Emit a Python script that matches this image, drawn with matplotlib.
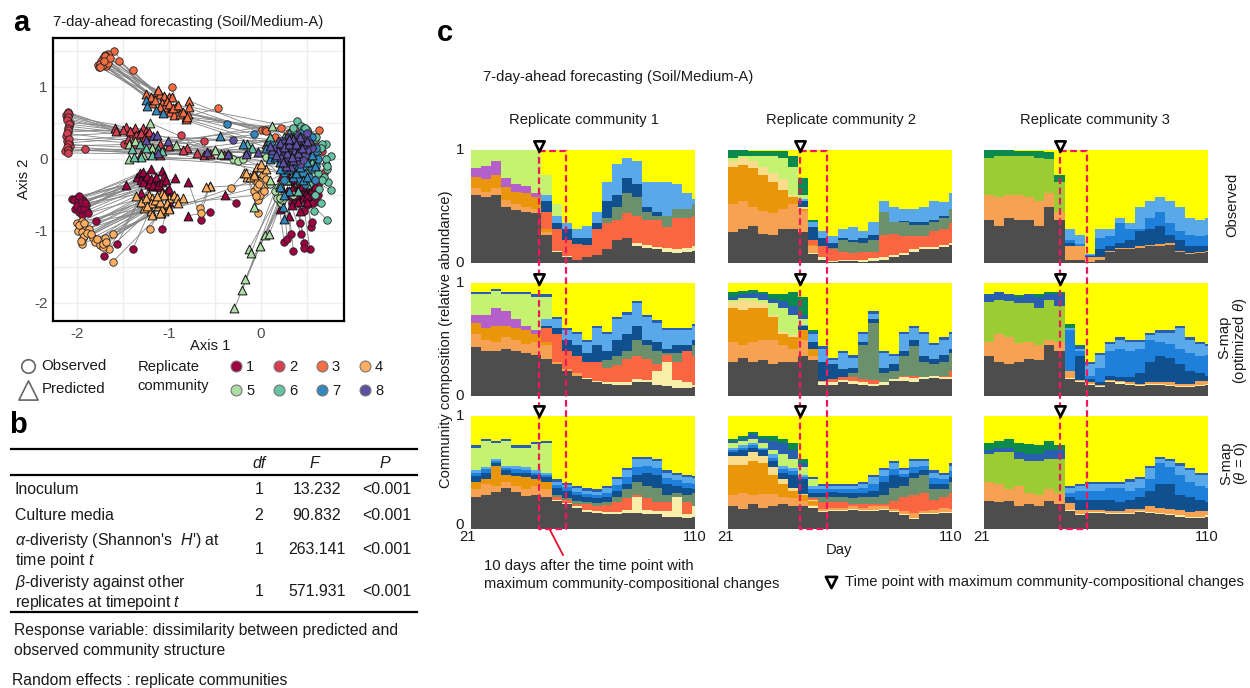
import numpy as np
from matplotlib import pyplot as plt

plt.rcParams['font.family'] = ['Liberation Sans', 'DejaVu Sans']
plt.rcParams['mathtext.fontset'] = 'custom'
plt.rcParams['mathtext.it'] = 'Liberation Sans:italic'
plt.rcParams['mathtext.rm'] = 'Liberation Sans'
plt.rcParams['axes.unicode_minus'] = False

W, H = 1250, 688

# panel a: observed -> predicted, one set of lists per replicate community
c1_ox = [-2.05,-2.0,-1.97,-2.02,-1.95,-1.92,-1.89,-1.98,-1.94,-1.79,-1.56,-1.71,-1.39,-1.08,-.65,-.55,-.27,
         .25,.28,.32,.35,.43,.47,.53,.47,.54,.42,.55,.58,.6,.62,.5,.4,.38,.52,
         -2.03,-1.99,-1.96,-1.93,-1.9,-2.0,-1.96,-1.92,-1.88,-1.98,-1.95,-1.91,
         .3,.35,.4,.45,.5,.55,.6,.35,.42,.48,.55,.33,.38,.47,.62]
c1_oy = [-.56,-.55,-.55,-.7,-.62,-.72,-.72,-.74,-.78,-.86,-1.18,-1.35,-1.25,-.98,-.85,-.74,-.62,
         -1.15,-1.12,-1.05,-1.28,-1.05,-1.17,-1.25,-1.24,-.95,-.9,-.88,-.6,-.55,-.5,-.65,-.55,-.45,-.42,
         -.58,-.6,-.64,-.58,-.65,-.66,-.7,-.68,-.75,-.52,-.6,-.62,
         -.5,-.55,-.62,-.5,-.58,-.5,-.42,-.3,-.4,-.35,-.62,-.62,-.45,-.72,-.35]
c1_px = [-1.47,-1.35,-1.32,-1.28,-1.25,-1.2,-1.15,-1.08,-1.02,-.94,-1.3,-1.2,-1.1,-1.0,-.79,-.79,-.39,
         .2,.25,.3,.28,.33,.35,.45,.42,.48,.38,.42,.5,.22,.3,.4,.36,.45,.55,
         -1.3,-1.28,-1.24,-1.22,-1.2,-1.17,-1.14,-1.12,-1.08,-1.06,-1.03,-1.0,
         .28,.33,.38,.44,.5,.55,.58,.3,.36,.44,.5,.24,.28,.4,.52]
c1_py = [-.36,-.25,-.2,-.18,-.28,-.15,-.32,-.17,-.45,-.27,-.48,-.38,-.4,-.6,-.33,-.79,-.51,
         -.7,-.5,-.8,-.45,-.65,-.4,-.55,-.72,-.3,-.25,-.35,-.45,-.25,-.3,-.2,-.15,-.4,-.25,
         -.3,-.33,-.24,-.35,-.28,-.37,-.25,-.36,-.33,-.24,-.3,-.42,
         -.3,-.42,-.5,-.38,-.52,-.42,-.38,-.18,-.28,-.22,-.6,-.45,-.22,-.6,-.28]

c2_ox = [-2.1,-2.09,-2.12,-2.11,-2.08,-2.09,-2.1,-2.12,-2.11,-2.09,-2.08,-2.1,-2.13,-1.91,-1.49,-.87,-.62,.6,.66,.68,.55,
         -2.1,-2.1,-2.11,-2.09,-2.1,-2.1,-2.11,-2.09,-2.1,-2.11,-2.1,-2.1]
c2_oy = [.65,.62,.6,.56,.5,.45,.37,.32,.25,.22,.18,.14,.1,.14,.21,.33,.24,.18,.1,-.2,-.28,
         .63,.58,.54,.48,.42,.4,.35,.28,.2,.16,.12,.08]
c2_px = [-1.59,-1.58,-1.47,-1.4,-1.37,-1.33,-1.28,-1.25,-1.24,-1.45,-1.37,-1.3,-1.18,-1.12,-1.1,-.62,-.8,.4,.45,.5,.3,
         -1.5,-1.42,-1.36,-1.3,-1.26,-1.22,-1.1,-1.0,-.85,-.7,-.55,-.4]
c2_py = [.42,.38,.44,.36,.42,.34,.42,.38,.33,.28,.2,.07,.15,.08,.05,.05,.15,.1,-.05,-.2,.2,
         .4,.38,.33,.36,.3,.37,.2,.18,.12,.08,.06,.05]

c3_ox = [-1.6,-1.66,-1.7,-1.72,-1.74,-1.77,-1.76,-1.73,-1.68,-1.7,-1.75,-1.54,-1.39,-.97,-.47,.01,.04,.22,.63,.42,.5,
         -1.7,-1.68,-1.72,-1.66,-1.75,-1.69,-1.64,-1.71,.05,.15,.3,.4,.5]
c3_oy = [1.5,1.46,1.44,1.4,1.35,1.3,1.27,1.33,1.29,1.37,1.32,1.36,1.23,1.0,.7,.4,.4,.42,.4,.4,.3,
         1.42,1.38,1.3,1.33,1.28,1.43,1.4,1.35,.38,.3,.35,.42,.38]
c3_px = [-1.25,-1.13,-1.1,-1.05,-1.0,-.97,-.92,-1.18,-1.08,-1.02,-.99,-.93,-.95,-.88,-.82,-.78,-.79,-.82,.05,.3,.25,
         -1.2,-1.15,-1.12,-1.08,-1.05,-1.02,-1.0,-.96,-1.1,-.9,-.85,-.78,-.8]
c3_py = [.9,.93,.9,.87,.86,.85,.72,.78,.72,.68,.65,.7,.6,.62,.58,.8,.62,.55,.2,.25,.15,
         .85,.82,.95,.78,.72,.8,.76,.7,.72,.75,.65,.72,.58]

c4_ox = [-2.0,-1.97,-1.95,-1.99,-1.93,-1.9,-1.87,-1.94,-1.83,-1.8,-1.75,-1.7,-1.65,-1.72,-1.61,-1.61,-1.21,-.66,-.65,-.33,-.03,-.08,-.05,.02,.06,-.03,
         -1.98,-1.95,-1.92,-1.89,-1.85,-1.78,-1.72,-1.68,-1.96,-1.92,-.07,-.04,-.01,.03,.05,-.06,-.02]
c4_oy = [-.9,-.95,-.87,-1.0,-1.1,-.98,-.97,-1.18,-1.1,-1.15,-1.2,-1.1,-1.25,-1.22,-1.05,-1.43,-.97,-.68,-.75,-.41,-.76,-.45,-.3,-.22,-.35,-.58,
         -.92,-1.02,-1.08,-1.03,-1.05,-1.12,-1.18,-1.15,-1.14,-.9,-.3,-.4,-.5,-.45,-.28,-.52,-.35]
c4_px = [-1.36,-1.3,-1.27,-1.22,-1.18,-1.12,-1.08,-1.05,-1.0,-.95,-.91,-.85,-1.2,-1.1,-1.18,-1.09,-1.08,-.56,-.56,-.19,-.15,-.08,-.05,-.12,.0,.05,
         -1.3,-1.25,-1.2,-1.15,-1.1,-1.05,-1.02,-1.13,-1.24,-1.0,-1.1,-1.0,-.9,-.08,.0,-.16,-.6]
c4_py = [-.52,-.6,-.68,-.5,-.55,-.66,-.48,-.72,-.55,-.5,-.55,-.55,-.72,-.62,-.78,-.76,-.7,-.38,-.38,-.2,-.25,-.2,-.12,-.25,-.12,-.15,
         -.6,-.55,-.62,-.58,-.6,-.5,-.62,-.52,-.66,-.68,-.75,-.7,-.62,-.22,-.08,-.2,-.4]

c5_ox = [.2,.18,.2,.17,.15,.22,.25,.23,.18,-.3,-.25,-.2,.05,.12,.4,.3,.45,.35,.55,.1,.2,.3,.4,.5,.25,.2,.35,.45]
c5_oy = [-.55,-.5,-.6,-.55,-.45,-.62,-.5,-.58,-.4,-.01,-.03,.0,.02,.1,.1,-.1,-.3,-.5,-.2,-.35,-.55,.3,.2,-.05,-.2,.1,.35,.1]
c5_px = [-.29,-.21,-.17,-.13,-.11,-.01,.04,.09,-.08,-1.21,-1.44,-1.37,-1.43,-1.28,-1.18,-.92,-.5,-.44,.12,.2,.3,.22,.3,.35,.1,.08,.25,.4]
c5_py = [-2.08,-1.82,-1.67,-1.25,-1.31,-1.21,-1.06,-1.04,-.67,.5,.21,.24,-.01,.05,.15,.19,.12,.06,.46,-.35,-.45,.15,.05,-.1,-.3,.25,.1,-.2]

c6_ox = [.39,.43,.47,.7,.76,.7,.72,.73,.76,.72,.65,.57,.62,.66,.55,.58,.5,.6,.68,.45,.35,.3,.52,.63,
         .5,.6,.65,.7,.55,.62,.45,.4,.35,.58,.66,.72,.52,.48,.42]
c6_oy = [.53,.46,.42,.21,.04,-.07,-.15,-.32,-.44,-.85,-.61,-.72,.1,.2,.32,.28,.38,-.05,-.25,.35,.42,.3,.18,-.42,
         .4,.3,.15,.0,.1,-.2,.3,.25,.3,-.5,-.3,-.1,-.35,.42,.05]
c6_px = [-1.4,-1.32,-1.25,-1.18,-1.12,-1.3,-1.38,-1.08,-.15,-.1,.2,.35,.25,.3,.45,.18,.15,.1,.3,.4,.28,.12,.35,.5,
         .2,.3,.4,.45,.35,.5,.25,.3,.2,.4,.5,.55,.42,.35,.28]
c6_py = [.13,.2,.15,.05,.14,.03,.02,.1,.2,.15,-.05,-.2,.3,.15,.05,.25,.1,.3,.35,.1,-.3,.05,.28,-.35,
         .2,.1,.05,.2,.0,-.15,.25,.15,.1,-.45,-.2,-.05,-.3,.3,-.1]

c7_ox = [-.37,-.08,.1,.2,.3,.4,.5,.55,.6,.45,.35,.25,.15,.5,.6,.42,.3,.55,.48,.38,.4,.52,
         .2,.3,.35,.45,.5,.55,.6,.4,.3,.25,.52,.58,.62,.42,.35,.48]
c7_oy = [.48,.34,.2,.1,.25,.3,.2,.05,-.1,-.2,-.1,-.2,.05,.32,.1,.12,.02,-.15,-.05,.22,-.28,.25,
         .1,.0,-.1,-.1,.1,.3,.15,.05,.3,-.3,-.25,-.3,0,.35,.15,-.35]
c7_px = [-1.25,-1.24,-1.14,-1.07,-.45,-.2,.1,.24,.25,.3,.2,.25,.35,.4,.5,.42,.3,.55,.48,.38,.15,.05,
         .12,.2,.3,.38,.42,.5,.55,.35,.25,.2,.45,.5,.58,.32,.28,.42]
c7_py = [.81,.73,.68,.64,.32,.2,.0,-.67,-.84,-.45,-.15,-.5,-.25,-.1,-.05,.1,.05,.2,.12,.25,.02,.15,
         .08,-.05,-.15,-.2,.0,.15,.05,.02,.2,-.4,-.3,-.25,-.1,.28,.1,-.12]

c8_ox = [-.31,-.36,-.15,.2,.3,.4,.5,.45,.35,.25,.55,.3,.4,.48,.38,.28,.42,.5,.33,.22,
         .15,.25,.32,.4,.45,.5,.38,.3,.42,.28,.35,.46,.52,.25]
c8_oy = [.26,.05,.07,.25,.3,.33,.28,.15,.12,.15,.15,.05,.02,.05,.22,.18,-.08,.35,-.05,.05,
         .15,.22,.28,.1,.25,.12,-.05,-.1,.3,.02,.15,-.02,.22,-.05]
c8_px = [-1.17,-1.13,-1.01,-1.25,-1.12,-.59,-.36,-.16,-.03,.12,.2,.3,.36,.45,.38,.28,.32,.42,.25,.35,
         .1,.18,.22,.3,.35,.4,.44,.5,.27,.33,.38,.16,.24,.3]
c8_py = [.31,.33,.25,.26,.08,.09,.07,.07,.09,.12,.22,.27,.1,.2,.04,.08,-.12,.3,.16,-.02,
         .18,.1,.02,.2,.28,.08,.15,.24,-.1,.02,.2,.05,-.05,.28]

community_colors = ['#9e0142', '#d53e4f', '#f46d43', '#fdae61', '#abdda4', '#66c2a5', '#3288bd', '#5e4fa2']
community_data = [(c1_ox, c1_oy, c1_px, c1_py), (c2_ox, c2_oy, c2_px, c2_py),
                  (c3_ox, c3_oy, c3_px, c3_py), (c4_ox, c4_oy, c4_px, c4_py),
                  (c5_ox, c5_oy, c5_px, c5_py), (c6_ox, c6_oy, c6_px, c6_py),
                  (c7_ox, c7_oy, c7_px, c7_py), (c8_ox, c8_oy, c8_px, c8_py)]

# panel c: upper edge of each layer in percent, sampled every 4 days
days = np.arange(21, 110, 4)

colors = {'dark': '#4d4d4d', 'cream': '#f7eeaa', 'lorange': '#f6a252', 'orange': '#e9960a',
          'cream2': '#f9dc8c', 'coral': '#fb6642', 'sage': '#6c8f6c', 'navy': '#10508f',
          'mblue': '#1f80dc', 'lblue': '#58a8ea', 'purple': '#b45fca', 'lime': '#c6f272',
          'olive': '#9bcc34', 'edge': '#2a5fb0', 'dgreen': '#0a8a4c', 'yellow': '#ffff00'}
stack_order = ['dark', 'cream', 'lorange', 'orange', 'cream2', 'coral', 'sage', 'navy', 'mblue',
               'lblue', 'purple', 'lime', 'olive', 'edge', 'dgreen', 'yellow']

obs1 = {
 'dark':    [60,58,60,50,47,45,44,25, 10,5,3,5,7,12,20,22,15,13,12,10,9,10,11],
 'cream':   [0,0,0,0,0,0,0,0, 11,6,3,5,7,12,20,22,18,16,14,13,12,13,15],
 'lorange': [66,63,66,56,52,50,48,27, 0,0,0,0,0,0,0,0,0,0,0,0,0,0,0],
 'orange':  [76,74,78,67,63,62,58,30, 0,0,0,0,0,0,0,0,0,0,0,0,0,0,0],
 'coral':   [0,0,0,0,0,0,0,45, 30,20,17,16,30,35,38,44,42,38,38,32,40,40,42],
 'sage':    [0,0,0,0,0,0,0,0, 0,0,0,0,0,40,50,62,58,45,42,42,48,48,52],
 'navy':    [0,0,0,0,0,0,0,55, 35,30,22,22,35,55,60,75,70,50,45,42,48,48,52],
 'lblue':   [0,0,0,0,0,0,0,60, 42,35,30,33,45,72,88,93,90,72,72,72,70,62,57],
 'purple':  [84,86,90,75,70,68,62,0, 0,0,0,0,0,0,0,0,0,0,0,0,0,0,0],
 'lime':    [100,100,100,100,100,100,100,78, 52,0,0,0,0,0,0,0,0,0,0,0,0,0,0],
}
obs2 = {
 'dark':    [27,30,33,26,25,30,30,27, 8,3,1,2,2,1,2,3,5,7,10,12,12,14,16],
 'cream':   [0,0,0,0,0,0,0,0, 9,5,2,3,3,3,4,5,7,9,12,14,14,16,18],
 'lorange': [52,55,50,46,44,48,52,46, 15,5,0,0,0,0,0,0,0,0,0,0,0,0,0],
 'orange':  [85,87,84,78,72,65,58,48, 16,0,0,0,0,0,0,0,0,0,0,0,0,0,0],
 'cream2':  [90,93,90,85,80,74,60,50, 0,0,0,0,0,0,0,0,0,0,0,0,0,0,0],
 'coral':   [0,0,0,0,0,0,0,0, 20,15,12,10,9,10,10,25,26,24,24,24,28,30,35],
 'sage':    [0,0,0,0,0,0,0,0, 0,0,13,20,19,18,20,45,36,36,34,34,36,40,48],
 'navy':    [0,0,0,0,0,0,0,55, 32,22,18,22,20,22,25,45,36,37,36,36,38,42,48],
 'lblue':   [0,0,0,0,0,0,0,57, 36,28,24,30,32,28,36,55,50,48,48,50,55,54,62],
 'lime':    [93,95,95,95,95,93,85,60, 0,0,0,0,0,0,0,0,0,0,0,0,0,0,0],
 'dgreen':  [100,100,99,99,99,99,95,75, 38,0,0,0,0,0,0,0,0,0,0,0,0,0,0],
}
obs3 = {
 'dark':    [38,33,40,38,38,33,50,38, 3,3,1,3,10,12,12,13,15,15,16,10,8,9,10],
 'lorange': [60,58,60,60,58,55,62,45, 15,15,5,5,11,13,13,15,16,17,18,11,9,10,11],
 'navy':    [0,0,0,0,0,0,0,0, 18,10,6,12,15,18,20,28,30,33,25,20,15,15,15],
 'mblue':   [0,0,0,0,0,0,0,0, 20,17,7,22,24,35,30,30,40,45,35,28,25,24,25],
 'lblue':   [0,0,0,0,0,0,0,0, 30,25,8,30,30,40,35,50,55,58,55,50,40,38,40],
 'olive':   [93,95,95,95,95,93,92,72, 0,0,0,0,0,0,0,0,0,0,0,0,0,0,0],
 'dgreen':  [100,100,100,99,99,99,98,78, 0,0,0,0,0,0,0,0,0,0,0,0,0,0,0],
}
smap1 = {
 'dark':    [43,40,40,42,40,38,36,33, 28,22,18,15,12,11,10,10,12,12,10,9,7,7,8],
 'cream':   [0,0,0,0,0,0,0,0, 0,0,0,16,13,12,12,12,15,14,22,30,14,12,10],
 'lorange': [55,50,48,52,50,46,48,45, 30,24,20,16,13,0,0,0,0,0,0,0,0,0,0],
 'orange':  [65,60,62,62,60,58,55,48, 0,0,0,0,0,0,0,0,0,0,0,0,0,0,0],
 'coral':   [0,0,0,0,0,0,0,60, 55,40,35,30,30,25,27,33,35,33,28,36,30,40,35],
 'sage':    [0,0,0,0,0,0,0,0, 0,0,0,0,0,32,35,40,50,45,40,38,38,40,45],
 'navy':    [0,0,0,0,0,0,0,62, 60,50,45,38,45,40,50,55,62,50,48,42,45,45,50],
 'lblue':   [0,0,0,0,0,0,0,68, 68,58,55,48,60,55,68,72,82,70,65,58,58,58,62],
 'purple':  [72,72,78,75,68,62,58,0, 0,0,0,0,0,0,0,0,0,0,0,0,0,0,0],
 'lime':    [90,90,93,90,90,90,88,88, 0,0,0,0,0,0,0,0,0,0,0,0,0,0,0],
 'edge':    [92,92,95,92,92,92,90,90, 70,60,57,50,62,57,70,74,84,72,67,60,60,60,64],
}
smap2 = {
 'dark':    [30,34,30,32,28,30,30,35, 32,10,10,12,11,10,9,10,13,13,12,15,16,15,15],
 'cream':   [0,0,0,0,0,0,0,0, 0,12,12,14,13,12,11,12,15,17,16,17,18,17,17],
 'lorange': [48,45,48,50,50,45,42,50, 35,13,0,0,0,0,0,0,0,0,0,0,0,0,0],
 'orange':  [78,76,78,78,70,55,52,58, 42,0,0,0,0,0,0,0,0,0,0,0,0,0,0],
 'cream2':  [83,85,84,82,72,57,54,0, 0,0,0,0,0,0,0,0,0,0,0,0,0,0,0],
 'coral':   [0,0,0,0,0,0,0,0, 0,12,15,17,17,15,14,10,15,18,18,12,15,18,22],
 'sage':    [0,0,0,0,0,0,0,0, 0,0,0,0,20,45,65,20,22,35,44,30,28,30,38],
 'navy':    [0,0,0,0,0,0,0,62, 48,30,28,24,25,48,68,25,28,40,50,35,33,36,42],
 'lblue':   [0,0,0,0,0,0,0,63, 55,42,32,38,34,55,73,38,35,55,60,55,45,50,55],
 'lime':    [85,87,87,85,82,78,72,68, 0,0,0,0,0,0,0,0,0,0,0,0,0,0,0],
 'edge':    [88,90,91,90,86,84,80,72, 57,44,34,40,36,57,75,40,37,57,62,57,47,52,57],
 'dgreen':  [92,93,94,92,90,90,92,88, 58,0,0,0,0,0,0,0,0,0,0,0,0,0,0],
}
smap3 = {
 'dark':    [35,30,28,30,33,32,45,40, 15,12,10,8,12,11,10,9,10,10,9,8,8,9,10],
 'cream':   [0,0,0,0,0,0,0,0, 16,13,11,9,13,12,11,10,11,11,10,9,9,10,11],
 'lorange': [48,55,52,47,48,45,50,48, 22,14,12,10,14,13,12,11,12,12,12,11,11,13,13],
 'navy':    [0,0,0,0,0,0,0,0, 0,35,15,12,18,17,17,20,30,35,34,28,22,20,18],
 'mblue':   [0,0,0,0,0,0,0,0, 58,40,18,25,40,42,40,42,50,48,46,42,38,35,36],
 'lblue':   [0,0,0,0,0,0,0,0, 60,42,28,36,46,50,48,48,54,56,56,60,50,46,44],
 'olive':   [83,85,84,82,82,78,85,80, 55,0,0,0,0,0,0,0,0,0,0,0,0,0,0],
 'edge':    [90,92,90,88,90,88,90,90, 0,44,30,38,48,52,50,50,56,58,58,62,52,48,46],
 'dgreen':  [88,90,89,89,90,90,92,92, 64,45,0,0,0,0,0,0,0,0,0,0,0,0,0],
}
zero1 = {
 'dark':    [28,30,33,36,33,29,30,28, 25,22,19,15,14,13,13,14,14,13,13,11,11,10,11],
 'cream':   [0,0,0,0,0,0,0,0, 26,23,20,17,16,15,15,17,28,17,16,16,28,13,20],
 'lorange': [35,40,38,42,38,35,38,35, 0,0,0,0,0,0,0,0,0,0,0,0,0,0,0],
 'orange':  [42,44,56,48,47,46,44,42, 0,0,0,0,0,0,0,0,0,0,0,0,0,0,0],
 'coral':   [0,0,0,0,0,0,0,0, 28,26,22,22,20,21,24,27,30,27,24,24,28,24,20],
 'sage':    [0,0,0,0,0,0,0,0, 30,27,25,24,23,24,28,35,42,38,36,30,32,30,32],
 'navy':    [47,50,58,52,50,50,48,46, 36,34,30,28,27,28,34,40,48,50,48,40,38,36,35],
 'mblue':   [50,53,60,54,53,52,50,48, 39,37,33,31,30,32,39,46,55,56,54,45,43,41,40],
 'lblue':   [52,55,62,56,56,55,52,50, 42,39,36,34,33,36,44,52,62,62,60,50,48,46,45],
 'lime':    [72,78,76,78,72,72,75,76, 0,0,0,0,0,0,0,0,0,0,0,0,0,0,0],
 'edge':    [74,80,78,80,74,74,77,78, 44,41,38,36,35,38,46,54,64,64,62,52,50,48,47],
}
zero2 = {
 'dark':    [20,18,22,19,20,22,20,20, 19,15,16,16,17,16,16,17,15,12,9,13,13,14,14],
 'cream':   [0,0,0,0,0,0,0,0, 20,16,17,17,18,17,17,18,16,13,10,14,14,15,15],
 'lorange': [30,32,30,31,31,28,27,25, 21,18,19,19,20,19,20,20,18,16,14,16,17,19,18],
 'orange':  [57,57,60,58,48,40,34,30, 25,0,0,0,0,0,0,0,0,0,0,0,0,0,0],
 'cream2':  [65,65,68,65,55,44,36,31, 26,0,0,0,0,0,0,0,0,0,0,0,0,0,0],
 'coral':   [0,0,0,0,0,0,0,0, 27,24,24,24,22,22,22,22,25,28,30,32,26,28,32],
 'sage':    [0,0,0,0,0,0,0,0, 28,28,28,28,27,28,28,30,36,38,45,48,35,35,42],
 'navy':    [68,70,72,70,60,50,48,44, 32,32,33,32,32,32,34,42,48,46,50,52,40,40,46],
 'mblue':   [70,72,74,71,63,53,51,46, 35,35,35,35,35,36,40,47,53,49,55,56,45,44,51],
 'lblue':   [72,74,76,72,66,56,54,48, 38,38,38,38,38,40,46,52,58,52,60,60,50,48,56],
 'lime':    [76,78,80,76,70,66,62,55, 44,0,0,0,0,0,0,0,0,0,0,0,0,0,0],
 'edge':    [78,80,84,80,78,76,70,58, 46,40,40,40,40,42,48,54,60,54,62,62,52,50,58],
 'dgreen':  [80,82,86,82,82,80,76,62, 0,0,0,0,0,0,0,0,0,0,0,0,0,0,0],
}
zero3 = {
 'dark':    [25,24,25,20,22,20,25,22, 16,12,14,14,13,13,13,15,14,13,12,11,10,10,11],
 'cream':   [0,0,0,0,0,0,0,0, 17,13,15,15,14,14,14,16,15,14,13,12,11,11,12],
 'lorange': [42,40,35,38,32,30,35,32, 23,17,17,17,16,16,18,18,20,19,18,17,15,16,16],
 'navy':    [0,0,0,0,0,0,0,0, 28,26,26,26,26,24,26,28,34,40,40,30,28,26,24],
 'mblue':   [0,0,0,0,0,0,0,0, 32,34,34,34,36,36,34,36,44,58,55,48,42,38,36],
 'lblue':   [0,0,0,0,0,0,0,0, 36,38,40,40,40,40,42,44,54,62,60,56,52,48,48],
 'olive':   [66,68,68,62,60,60,62,62, 30,0,0,0,0,0,0,0,0,0,0,0,0,0,0],
 'edge':    [70,72,72,68,66,66,70,70, 38,40,42,42,42,42,44,46,56,64,62,58,54,50,50],
 'dgreen':  [76,78,80,76,75,74,78,74, 38,0,0,0,0,0,0,0,0,0,0,0,0,0,0],
}

panels = [[obs1, obs2, obs3], [smap1, smap2, smap3], [zero1, zero2, zero3]]
peak_days = [48, 50, 51]
col_x = [471, 727.5, 984]
col_w = 224
row_y = [(150, 263), (283, 396), (416, 529)]

fig = plt.figure(figsize=(W / 100, H / 100), dpi=100)


def axes_px(x0, y0, x1, y1):
    return fig.add_axes([x0 / W, 1 - y1 / H, (x1 - x0) / W, (y1 - y0) / H])


# a
ax = axes_px(53, 38, 344, 321)
ax.set_xlim(-2.26, 0.90)
ax.set_ylim(-2.254, 1.676)
ax.set_xticks([-2, -1, 0])
ax.set_yticks([-2, -1, 0, 1])
ax.set_xticks([-1.5, -0.5, 0.5], minor=True)
ax.set_yticks([-1.5, -0.5, 0.5, 1.5], minor=True)
ax.grid(True, which='both', color='#eeeeee', lw=1)
ax.set_axisbelow(True)
ax.tick_params(which='both', length=0, labelsize=11, labelcolor='#4d4d4d', pad=4)
for s in ax.spines.values():
    s.set_linewidth(1.6)

for ox, oy, px, py in community_data:
    for a, b, c, d in zip(ox, oy, px, py):
        ax.plot([a, c], [b, d], color='#858585', lw=0.6, zorder=2)
for i, (ox, oy, px, py) in enumerate(community_data):
    ax.scatter(ox, oy, s=29, marker='o', color=community_colors[i], edgecolor='#222222', lw=0.6, zorder=3 + i)
    ax.scatter(px, py, s=40, marker='^', color=community_colors[i], edgecolor='#111111', lw=0.7, zorder=3 + i)

# c
for r in range(3):
    for c in range(3):
        y0, y1 = row_y[r]
        a = axes_px(col_x[c], y0, col_x[c] + col_w, y1)
        a.set_xlim(21, 110)
        a.set_ylim(0, 100)
        a.axis('off')
        a.bar(days, [100] * len(days), width=4, align='edge', color=colors['yellow'], lw=0)
        for name in stack_order[::-1]:
            if name in panels[r][c]:
                a.bar(days, panels[r][c][name], width=4, align='edge', color=colors[name], lw=0)

# overlay in pixel coordinates for labels and annotations
ov = fig.add_axes([0, 0, 1, 1], zorder=10)
ov.set_xlim(0, W)
ov.set_ylim(H, 0)
ov.axis('off')
ov.patch.set_alpha(0)


def txt(x, y, s, size=10.6, ha='left', va='center', **kw):
    ov.text(x, y, s, fontsize=size, ha=ha, va=va, color=kw.pop('color', '#1a1a1a'), **kw)


txt(21, 23, 'a', size=21, ha='center', weight='bold', color='black')
txt(18, 425, 'b', size=21, ha='center', weight='bold', color='black')
txt(445, 33, 'c', size=21, ha='center', weight='bold', color='black')
txt(53, 22, '7-day-ahead forecasting (Soil/Medium-A)')
txt(210, 346, 'Axis 1', ha='center')
txt(24, 179, 'Axis 2', ha='center', rotation=90)

# legend of a
ov.scatter([28], [366], s=95, marker='o', facecolor='white', edgecolor='#666666', lw=1.2)
ov.scatter([28], [390], s=190, marker='^', facecolor='white', edgecolor='#666666', lw=1.2)
txt(41, 366, 'Observed', size=10.8)
txt(42, 389, 'Predicted', size=10.8)
txt(138, 367, 'Replicate')
txt(137, 386, 'community')
for i, col in enumerate(community_colors):
    lx = [236, 279, 322, 365][i % 4]
    ly = 366 if i < 4 else 390
    ov.scatter([lx], [ly], s=62, color=col, edgecolor='#777777', lw=0.8)
    txt(lx + 10, ly + 1, str(i + 1))

# b table
for y, lw in [(449, 1.6), (475, 1.6), (612, 1.6)]:
    ov.plot([11, 417], [y, y], color='black', lw=lw)
table_rows = ['Inoculum', 'Culture media']
table_df = ['1', '2', '1', '1']
table_f = ['13.232', '90.832', '263.141', '571.931']
table_p = ['<0.001'] * 4
table_y = [489, 516, 550, 592]
TS = 11.4
txt(259, 463, 'df', size=TS, ha='center', style='italic')
txt(314, 463, 'F', size=TS, ha='center', style='italic')
txt(385, 463, 'P', size=TS, ha='center', style='italic')
txt(15, 489, table_rows[0], size=TS)
txt(15, 516, table_rows[1], size=TS)
txt(15, 540, r"$\mathit{\alpha}$-diveristy (Shannon's  $\mathit{H}$') at", size=TS)
txt(15, 561, r'time point $\mathit{t}$', size=TS)
txt(15, 582, r'$\mathit{\beta}$-diveristy against other', size=TS)
txt(15, 603, r'replicates at timepoint $\mathit{t}$', size=TS)
for i in range(4):
    txt(259, table_y[i], table_df[i], size=TS, ha='center')
    txt(317, table_y[i], table_f[i], size=TS, ha='center')
    txt(387, table_y[i], table_p[i], size=TS, ha='center')
txt(14, 630, 'Response variable: dissimilarity between predicted and', size=11.3)
txt(14, 651, 'observed community structure', size=11.3)
txt(12, 680, 'Random effects : replicate communities', size=11.3)

# c annotation
txt(483, 77, '7-day-ahead forecasting (Soil/Medium-A)')
for c, title_x in enumerate([584, 841, 1095]):
    txt(title_x, 120, 'Replicate community %d' % (c + 1), ha='center')
for (y0, y1), lab0 in zip(row_y, [263, 396, 525]):
    txt(460, y0, '1', size=10.8, ha='center')
    txt(460, lab0, '0', size=10.8, ha='center')
txt(446, 339, 'Community composition (relative abundance)', ha='center', rotation=90)
for x21, x110 in [(468, 695), (725, 951), (982, 1207)]:
    txt(x21, 537, '21', ha='center')
    txt(x110, 537, '110', ha='center')
txt(839, 550, 'Day', ha='center')
txt(1232, 205, 'Observed', ha='center', rotation=90)
txt(1224, 337, 'S-map', ha='center', rotation=90)
txt(1240, 341, r'(optimized $\mathit{\theta}$)', ha='center', rotation=90)
txt(1226, 463, 'S-map', ha='center', rotation=90)
txt(1241, 463, r'($\mathit{\theta}$ = 0)', ha='center', rotation=90)

for c in range(3):
    x_peak = col_x[c] + (peak_days[c] - 21) / 89 * col_w
    x_end = x_peak + 27
    ov.plot([x_peak, x_end, x_end, x_peak, x_peak], [151, 151, 529, 529, 151],
            color='#f0185a', lw=1.6, ls=(0, (3, 1.6)))
    for mark_y in [146, 279, 411]:
        ov.scatter([x_peak], [mark_y], s=55, marker='v', facecolor='white', edgecolor='black', lw=1.9, zorder=12)

ov.plot([550, 563], [530, 555], color='#e8112d', lw=1.3)
txt(484, 566, '10 days after the time point with')
txt(484, 584, 'maximum community-compositional changes')
ov.scatter([831], [582], s=65, marker='v', facecolor='white', edgecolor='black', lw=1.9)
txt(845, 582, 'Time point with maximum community-compositional changes')

fig.savefig('out.png', dpi=100)
